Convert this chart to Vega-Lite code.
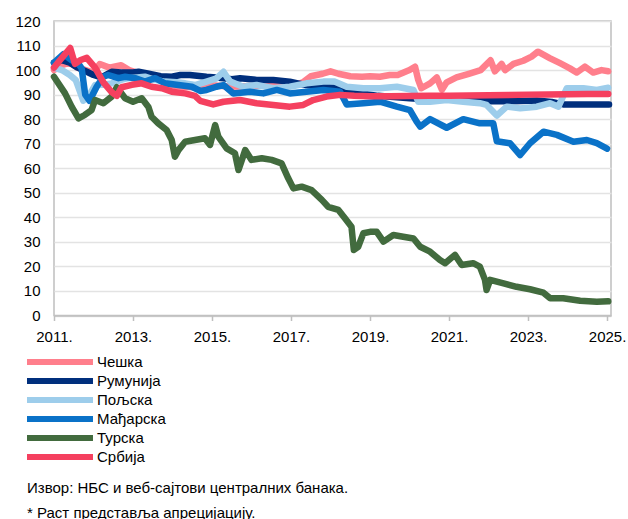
{
  "$schema": "https://vega.github.io/schema/vega-lite/v6.json",
  "width": 557,
  "height": 294.5,
  "autosize": {"type": "none"},
  "padding": {"left": 54, "top": 21, "right": 17, "bottom": 203.5},
  "background": "white",
  "config": {
    "font": "Liberation Sans",
    "view": {"stroke": "#BFBFBF", "strokeWidth": 1.5}
  },
  "title": {
    "text": "Извор: НБС и веб-сајтови централних банака.",
    "subtitle": "* Раст представља апрецијацију.",
    "orient": "bottom",
    "anchor": "start",
    "frame": "group",
    "fontSize": 15,
    "fontWeight": "normal",
    "subtitleFontSize": 15,
    "subtitlePadding": 10,
    "color": "black",
    "subtitleColor": "black",
    "offset": 14,
    "dx": -27
  },
  "data": {
    "values": [
      {"s": "Чешка", "t": 2011.0, "v": 100},
      {"s": "Чешка", "t": 2011.2, "v": 102},
      {"s": "Чешка", "t": 2011.4, "v": 103},
      {"s": "Чешка", "t": 2011.6, "v": 101},
      {"s": "Чешка", "t": 2011.8, "v": 100},
      {"s": "Чешка", "t": 2012.0, "v": 99},
      {"s": "Чешка", "t": 2012.16, "v": 102.5},
      {"s": "Чешка", "t": 2012.4, "v": 101},
      {"s": "Чешка", "t": 2012.7, "v": 102},
      {"s": "Чешка", "t": 2012.9, "v": 100},
      {"s": "Чешка", "t": 2013.1, "v": 99},
      {"s": "Чешка", "t": 2013.3, "v": 98},
      {"s": "Чешка", "t": 2013.5, "v": 97},
      {"s": "Чешка", "t": 2013.7, "v": 97},
      {"s": "Чешка", "t": 2013.85, "v": 94},
      {"s": "Чешка", "t": 2014.0, "v": 93.5},
      {"s": "Чешка", "t": 2014.5, "v": 93},
      {"s": "Чешка", "t": 2015.0, "v": 93.8},
      {"s": "Чешка", "t": 2015.5, "v": 93.2},
      {"s": "Чешка", "t": 2016.0, "v": 93.5},
      {"s": "Чешка", "t": 2016.5, "v": 93.9},
      {"s": "Чешка", "t": 2017.0, "v": 93.6},
      {"s": "Чешка", "t": 2017.3, "v": 95},
      {"s": "Чешка", "t": 2017.5, "v": 97.5},
      {"s": "Чешка", "t": 2017.8, "v": 98.5},
      {"s": "Чешка", "t": 2018.0, "v": 99.5},
      {"s": "Чешка", "t": 2018.2, "v": 98.5},
      {"s": "Чешка", "t": 2018.5, "v": 97.5},
      {"s": "Чешка", "t": 2018.8, "v": 97.3},
      {"s": "Чешка", "t": 2019.0, "v": 97.5},
      {"s": "Чешка", "t": 2019.25, "v": 97.3},
      {"s": "Чешка", "t": 2019.5, "v": 98},
      {"s": "Чешка", "t": 2019.7, "v": 98},
      {"s": "Чешка", "t": 2020.0, "v": 100},
      {"s": "Чешка", "t": 2020.14, "v": 101.4},
      {"s": "Чешка", "t": 2020.22, "v": 96},
      {"s": "Чешка", "t": 2020.3, "v": 92.6},
      {"s": "Чешка", "t": 2020.52, "v": 94.6},
      {"s": "Чешка", "t": 2020.69, "v": 97},
      {"s": "Чешка", "t": 2020.82, "v": 92},
      {"s": "Чешка", "t": 2020.94, "v": 95},
      {"s": "Чешка", "t": 2021.19, "v": 97},
      {"s": "Чешка", "t": 2021.5, "v": 98.5},
      {"s": "Чешка", "t": 2021.8, "v": 100},
      {"s": "Чешка", "t": 2022.05, "v": 104},
      {"s": "Чешка", "t": 2022.16, "v": 99.5},
      {"s": "Чешка", "t": 2022.33, "v": 102.5},
      {"s": "Чешка", "t": 2022.42, "v": 100},
      {"s": "Чешка", "t": 2022.63, "v": 102.5},
      {"s": "Чешка", "t": 2022.88, "v": 103.8},
      {"s": "Чешка", "t": 2023.09, "v": 105.5},
      {"s": "Чешка", "t": 2023.25, "v": 107.5},
      {"s": "Чешка", "t": 2023.56, "v": 104.8},
      {"s": "Чешка", "t": 2023.81, "v": 102.8},
      {"s": "Чешка", "t": 2024.06, "v": 100.7},
      {"s": "Чешка", "t": 2024.23, "v": 99},
      {"s": "Чешка", "t": 2024.44, "v": 101.4},
      {"s": "Чешка", "t": 2024.65, "v": 99},
      {"s": "Чешка", "t": 2024.86, "v": 100},
      {"s": "Чешка", "t": 2025.03, "v": 99.5},

      {"s": "Румунија", "t": 2011.0, "v": 103},
      {"s": "Румунија", "t": 2011.2, "v": 104},
      {"s": "Румунија", "t": 2011.4, "v": 103},
      {"s": "Румунија", "t": 2011.6, "v": 101},
      {"s": "Румунија", "t": 2011.83, "v": 99.3},
      {"s": "Румунија", "t": 2012.0, "v": 98},
      {"s": "Румунија", "t": 2012.2, "v": 97},
      {"s": "Румунија", "t": 2012.46, "v": 99.3},
      {"s": "Румунија", "t": 2012.7, "v": 99},
      {"s": "Румунија", "t": 2013.0, "v": 99},
      {"s": "Румунија", "t": 2013.14, "v": 99.3},
      {"s": "Румунија", "t": 2013.4, "v": 98.5},
      {"s": "Румунија", "t": 2013.7, "v": 97.5},
      {"s": "Румунија", "t": 2013.98, "v": 97.3},
      {"s": "Румунија", "t": 2014.2, "v": 98},
      {"s": "Румунија", "t": 2014.44, "v": 98},
      {"s": "Румунија", "t": 2014.86, "v": 97.3},
      {"s": "Румунија", "t": 2015.1, "v": 97},
      {"s": "Румунија", "t": 2015.29, "v": 96.7},
      {"s": "Румунија", "t": 2015.5, "v": 96.3},
      {"s": "Румунија", "t": 2015.71, "v": 96.7},
      {"s": "Румунија", "t": 2016.13, "v": 96},
      {"s": "Румунија", "t": 2016.55, "v": 96},
      {"s": "Румунија", "t": 2016.97, "v": 95.3},
      {"s": "Румунија", "t": 2017.2, "v": 94.5},
      {"s": "Румунија", "t": 2017.39, "v": 93.9},
      {"s": "Румунија", "t": 2017.82, "v": 93.2},
      {"s": "Румунија", "t": 2018.24, "v": 92.6},
      {"s": "Румунија", "t": 2018.5, "v": 91.5},
      {"s": "Румунија", "t": 2018.8, "v": 90.5},
      {"s": "Румунија", "t": 2019.2, "v": 89.5},
      {"s": "Румунија", "t": 2019.6, "v": 89},
      {"s": "Румунија", "t": 2020.0, "v": 88.5},
      {"s": "Румунија", "t": 2020.5, "v": 88},
      {"s": "Румунија", "t": 2021.0, "v": 88},
      {"s": "Румунија", "t": 2021.5, "v": 87.5},
      {"s": "Румунија", "t": 2022.0, "v": 87.3},
      {"s": "Румунија", "t": 2022.63, "v": 87.3},
      {"s": "Румунија", "t": 2023.22, "v": 87.6},
      {"s": "Румунија", "t": 2023.6, "v": 87},
      {"s": "Румунија", "t": 2023.89, "v": 86},
      {"s": "Румунија", "t": 2024.3, "v": 86},
      {"s": "Румунија", "t": 2024.7, "v": 86},
      {"s": "Румунија", "t": 2025.05, "v": 86},

      {"s": "Пољска", "t": 2011.0, "v": 101},
      {"s": "Пољска", "t": 2011.2, "v": 100},
      {"s": "Пољска", "t": 2011.4, "v": 98},
      {"s": "Пољска", "t": 2011.55, "v": 96},
      {"s": "Пољска", "t": 2011.74, "v": 87.5},
      {"s": "Пољска", "t": 2011.9, "v": 90},
      {"s": "Пољска", "t": 2012.04, "v": 93.9},
      {"s": "Пољска", "t": 2012.25, "v": 94},
      {"s": "Пољска", "t": 2012.46, "v": 94.6},
      {"s": "Пољска", "t": 2012.7, "v": 96},
      {"s": "Пољска", "t": 2012.88, "v": 96.7},
      {"s": "Пољска", "t": 2013.1, "v": 97},
      {"s": "Пољска", "t": 2013.3, "v": 97.3},
      {"s": "Пољска", "t": 2013.55, "v": 96},
      {"s": "Пољска", "t": 2013.81, "v": 95.3},
      {"s": "Пољска", "t": 2014.1, "v": 95},
      {"s": "Пољска", "t": 2014.32, "v": 94.6},
      {"s": "Пољска", "t": 2014.57, "v": 93.9},
      {"s": "Пољска", "t": 2014.86, "v": 95.3},
      {"s": "Пољска", "t": 2015.1, "v": 96.5},
      {"s": "Пољска", "t": 2015.29, "v": 99.3},
      {"s": "Пољска", "t": 2015.46, "v": 95.3},
      {"s": "Пољска", "t": 2015.79, "v": 93.2},
      {"s": "Пољска", "t": 2016.13, "v": 93.9},
      {"s": "Пољска", "t": 2016.55, "v": 92.6},
      {"s": "Пољска", "t": 2016.97, "v": 93.2},
      {"s": "Пољска", "t": 2017.39, "v": 94.6},
      {"s": "Пољска", "t": 2017.82, "v": 95.3},
      {"s": "Пољска", "t": 2018.1, "v": 95.3},
      {"s": "Пољска", "t": 2018.41, "v": 93.2},
      {"s": "Пољска", "t": 2018.83, "v": 92.6},
      {"s": "Пољска", "t": 2019.25, "v": 92.6},
      {"s": "Пољска", "t": 2019.68, "v": 93.2},
      {"s": "Пољска", "t": 2020.1, "v": 91.9},
      {"s": "Пољска", "t": 2020.22, "v": 87.1},
      {"s": "Пољска", "t": 2020.52, "v": 87.1},
      {"s": "Пољска", "t": 2020.94, "v": 87.8},
      {"s": "Пољска", "t": 2021.36, "v": 87.1},
      {"s": "Пољска", "t": 2021.78, "v": 86.5},
      {"s": "Пољска", "t": 2021.95, "v": 85.8},
      {"s": "Пољска", "t": 2022.21, "v": 81.5},
      {"s": "Пољска", "t": 2022.46, "v": 85.1},
      {"s": "Пољска", "t": 2022.8, "v": 84.4},
      {"s": "Пољска", "t": 2023.22, "v": 85.1},
      {"s": "Пољска", "t": 2023.56, "v": 86.5},
      {"s": "Пољска", "t": 2023.77, "v": 85.1},
      {"s": "Пољска", "t": 2023.98, "v": 92.6},
      {"s": "Пољска", "t": 2024.4, "v": 92.6},
      {"s": "Пољска", "t": 2024.74, "v": 91.9},
      {"s": "Пољска", "t": 2025.03, "v": 92.8},

      {"s": "Мађарска", "t": 2011.0, "v": 103},
      {"s": "Мађарска", "t": 2011.24, "v": 106.5},
      {"s": "Мађарска", "t": 2011.45, "v": 104},
      {"s": "Мађарска", "t": 2011.6, "v": 103},
      {"s": "Мађарска", "t": 2011.7, "v": 100.7},
      {"s": "Мађарска", "t": 2011.79, "v": 90},
      {"s": "Мађарска", "t": 2011.9, "v": 87.5},
      {"s": "Мађарска", "t": 2012.08, "v": 93.2},
      {"s": "Мађарска", "t": 2012.25, "v": 97.3},
      {"s": "Мађарска", "t": 2012.37, "v": 98},
      {"s": "Мађарска", "t": 2012.63, "v": 96.7},
      {"s": "Мађарска", "t": 2012.8, "v": 97.3},
      {"s": "Мађарска", "t": 2013.05, "v": 96.7},
      {"s": "Мађарска", "t": 2013.3, "v": 95.3},
      {"s": "Мађарска", "t": 2013.56, "v": 96.7},
      {"s": "Мађарска", "t": 2013.81, "v": 94.6},
      {"s": "Мађарска", "t": 2014.15, "v": 93.9},
      {"s": "Мађарска", "t": 2014.49, "v": 93.2},
      {"s": "Мађарска", "t": 2014.7, "v": 91.5},
      {"s": "Мађарска", "t": 2014.86, "v": 91.9},
      {"s": "Мађарска", "t": 2015.11, "v": 93.2},
      {"s": "Мађарска", "t": 2015.29, "v": 93.9},
      {"s": "Мађарска", "t": 2015.54, "v": 90.5},
      {"s": "Мађарска", "t": 2015.96, "v": 91.2},
      {"s": "Мађарска", "t": 2016.3, "v": 90.5},
      {"s": "Мађарска", "t": 2016.64, "v": 91.9},
      {"s": "Мађарска", "t": 2016.97, "v": 90.5},
      {"s": "Мађарска", "t": 2017.39, "v": 91.2},
      {"s": "Мађарска", "t": 2017.82, "v": 91.9},
      {"s": "Мађарска", "t": 2018.24, "v": 91.2},
      {"s": "Мађарска", "t": 2018.41, "v": 86},
      {"s": "Мађарска", "t": 2018.83, "v": 86.5},
      {"s": "Мађарска", "t": 2019.25, "v": 87.1},
      {"s": "Мађарска", "t": 2019.68, "v": 85.1},
      {"s": "Мађарска", "t": 2020.01, "v": 83.7},
      {"s": "Мађарска", "t": 2020.18, "v": 79},
      {"s": "Мађарска", "t": 2020.27, "v": 77},
      {"s": "Мађарска", "t": 2020.52, "v": 80},
      {"s": "Мађарска", "t": 2020.94, "v": 76.5},
      {"s": "Мађарска", "t": 2021.36, "v": 80},
      {"s": "Мађарска", "t": 2021.78, "v": 78.3},
      {"s": "Мађарска", "t": 2022.12, "v": 78.3},
      {"s": "Мађарска", "t": 2022.21, "v": 71},
      {"s": "Мађарска", "t": 2022.54, "v": 70.2},
      {"s": "Мађарска", "t": 2022.8, "v": 65.4},
      {"s": "Мађарска", "t": 2023.05, "v": 70.2},
      {"s": "Мађарска", "t": 2023.39, "v": 74.9},
      {"s": "Мађарска", "t": 2023.73, "v": 73.6},
      {"s": "Мађарска", "t": 2024.15, "v": 70.8},
      {"s": "Мађарска", "t": 2024.49, "v": 71.5},
      {"s": "Мађарска", "t": 2024.74, "v": 70.2},
      {"s": "Мађарска", "t": 2025.0, "v": 68},

      {"s": "Турска", "t": 2011.0, "v": 97.3},
      {"s": "Турска", "t": 2011.28, "v": 90.5},
      {"s": "Турска", "t": 2011.45, "v": 85},
      {"s": "Турска", "t": 2011.62, "v": 80.3},
      {"s": "Турска", "t": 2011.78, "v": 81.7},
      {"s": "Турска", "t": 2011.95, "v": 83.7},
      {"s": "Турска", "t": 2012.04, "v": 87.8},
      {"s": "Турска", "t": 2012.25, "v": 86.5},
      {"s": "Турска", "t": 2012.46, "v": 89.2},
      {"s": "Турска", "t": 2012.59, "v": 93},
      {"s": "Турска", "t": 2012.8, "v": 88.5},
      {"s": "Турска", "t": 2013.0, "v": 87.1},
      {"s": "Турска", "t": 2013.22, "v": 88.5},
      {"s": "Турска", "t": 2013.39, "v": 85},
      {"s": "Турска", "t": 2013.47, "v": 81},
      {"s": "Турска", "t": 2013.64, "v": 78.3},
      {"s": "Турска", "t": 2013.85, "v": 75.6},
      {"s": "Турска", "t": 2013.98, "v": 71.5},
      {"s": "Турска", "t": 2014.06, "v": 64.7},
      {"s": "Турска", "t": 2014.15, "v": 67.4},
      {"s": "Турска", "t": 2014.32, "v": 70.8},
      {"s": "Турска", "t": 2014.57, "v": 71.5},
      {"s": "Турска", "t": 2014.82, "v": 72.2},
      {"s": "Турска", "t": 2014.95, "v": 69.5},
      {"s": "Турска", "t": 2015.08, "v": 77.6},
      {"s": "Турска", "t": 2015.16, "v": 72.9},
      {"s": "Турска", "t": 2015.37, "v": 68.1},
      {"s": "Турска", "t": 2015.58, "v": 66.1},
      {"s": "Турска", "t": 2015.67, "v": 59.3},
      {"s": "Турска", "t": 2015.84, "v": 67.4},
      {"s": "Турска", "t": 2016.0, "v": 63.4},
      {"s": "Турска", "t": 2016.26, "v": 64.1},
      {"s": "Турска", "t": 2016.51, "v": 63.4},
      {"s": "Турска", "t": 2016.76, "v": 62},
      {"s": "Турска", "t": 2016.93, "v": 55.9},
      {"s": "Турска", "t": 2017.06, "v": 51.8},
      {"s": "Турска", "t": 2017.27, "v": 52.5},
      {"s": "Турска", "t": 2017.52, "v": 51.1},
      {"s": "Турска", "t": 2017.78, "v": 47.1},
      {"s": "Турска", "t": 2017.94, "v": 44.3},
      {"s": "Турска", "t": 2018.2, "v": 43},
      {"s": "Турска", "t": 2018.37, "v": 39.5},
      {"s": "Турска", "t": 2018.53, "v": 36.2},
      {"s": "Турска", "t": 2018.59, "v": 26.7},
      {"s": "Турска", "t": 2018.7, "v": 28},
      {"s": "Турска", "t": 2018.83, "v": 33.5},
      {"s": "Турска", "t": 2019.0, "v": 34.1},
      {"s": "Турска", "t": 2019.17, "v": 34.1},
      {"s": "Турска", "t": 2019.34, "v": 30.1},
      {"s": "Турска", "t": 2019.59, "v": 32.8},
      {"s": "Турска", "t": 2019.84, "v": 32.1},
      {"s": "Турска", "t": 2020.1, "v": 31.4},
      {"s": "Турска", "t": 2020.27, "v": 28},
      {"s": "Турска", "t": 2020.52, "v": 26},
      {"s": "Турска", "t": 2020.77, "v": 22.6},
      {"s": "Турска", "t": 2020.9, "v": 21.3},
      {"s": "Турска", "t": 2021.15, "v": 24.7},
      {"s": "Турска", "t": 2021.32, "v": 20.6},
      {"s": "Турска", "t": 2021.61, "v": 21.3},
      {"s": "Турска", "t": 2021.78, "v": 19.9},
      {"s": "Турска", "t": 2021.91, "v": 14.5},
      {"s": "Турска", "t": 2021.95, "v": 10.4},
      {"s": "Турска", "t": 2022.04, "v": 14.5},
      {"s": "Турска", "t": 2022.38, "v": 13.1},
      {"s": "Турска", "t": 2022.71, "v": 11.7},
      {"s": "Турска", "t": 2023.05, "v": 10.7},
      {"s": "Турска", "t": 2023.39, "v": 9.3},
      {"s": "Турска", "t": 2023.56, "v": 7},
      {"s": "Турска", "t": 2023.89, "v": 7},
      {"s": "Турска", "t": 2024.32, "v": 6},
      {"s": "Турска", "t": 2024.74, "v": 5.6},
      {"s": "Турска", "t": 2025.03, "v": 5.8},

      {"s": "Србија", "t": 2011.0, "v": 101},
      {"s": "Србија", "t": 2011.15, "v": 104},
      {"s": "Србија", "t": 2011.41, "v": 109},
      {"s": "Србија", "t": 2011.53, "v": 102.5},
      {"s": "Србија", "t": 2011.66, "v": 104},
      {"s": "Србија", "t": 2011.83, "v": 105},
      {"s": "Србија", "t": 2012.04, "v": 101},
      {"s": "Србија", "t": 2012.25, "v": 95},
      {"s": "Србија", "t": 2012.46, "v": 91},
      {"s": "Србија", "t": 2012.59, "v": 89.5},
      {"s": "Србија", "t": 2012.71, "v": 93},
      {"s": "Србија", "t": 2012.97, "v": 94},
      {"s": "Србија", "t": 2013.22, "v": 94.6},
      {"s": "Србија", "t": 2013.47, "v": 93.2},
      {"s": "Србија", "t": 2013.73, "v": 92.6},
      {"s": "Србија", "t": 2013.98, "v": 91.2},
      {"s": "Србија", "t": 2014.32, "v": 90.5},
      {"s": "Србија", "t": 2014.57, "v": 89.5},
      {"s": "Србија", "t": 2014.7, "v": 87.5},
      {"s": "Србија", "t": 2015.03, "v": 86},
      {"s": "Србија", "t": 2015.29, "v": 87.1},
      {"s": "Србија", "t": 2015.71, "v": 87.8},
      {"s": "Србија", "t": 2016.13, "v": 86.5},
      {"s": "Србија", "t": 2016.55, "v": 85.8},
      {"s": "Србија", "t": 2016.97, "v": 85.1},
      {"s": "Србија", "t": 2017.31, "v": 85.8},
      {"s": "Србија", "t": 2017.56, "v": 87.8},
      {"s": "Србија", "t": 2017.9, "v": 89.2},
      {"s": "Србија", "t": 2018.24, "v": 89.9},
      {"s": "Србија", "t": 2018.6, "v": 89.5},
      {"s": "Србија", "t": 2019.0, "v": 89.3},
      {"s": "Србија", "t": 2019.5, "v": 89.3},
      {"s": "Србија", "t": 2020.0, "v": 89.4},
      {"s": "Србија", "t": 2020.5, "v": 89.5},
      {"s": "Србија", "t": 2021.0, "v": 89.5},
      {"s": "Србија", "t": 2021.5, "v": 89.6},
      {"s": "Србија", "t": 2022.0, "v": 89.7},
      {"s": "Србија", "t": 2022.5, "v": 89.8},
      {"s": "Србија", "t": 2023.0, "v": 90},
      {"s": "Србија", "t": 2023.5, "v": 90.1},
      {"s": "Србија", "t": 2024.0, "v": 90.2},
      {"s": "Србија", "t": 2024.5, "v": 90.3},
      {"s": "Србија", "t": 2025.03, "v": 90.3}
    ]
  },
  "mark": {"type": "line", "strokeWidth": 6.5, "strokeCap": "round", "strokeJoin": "round"},
  "encoding": {
    "x": {
      "field": "t",
      "type": "quantitative",
      "scale": {"domain": [2011, 2025.1], "nice": false, "zero": false},
      "axis": {
        "title": null,
        "values": [2011, 2013, 2015, 2017, 2019, 2021, 2023, 2025],
        "format": "d",
        "labelExpr": "datum.label + '.'",
        "grid": false,
        "domainColor": "#BFBFBF",
        "domainWidth": 1.5,
        "tickColor": "#BFBFBF",
        "tickWidth": 1.5,
        "tickSize": 5,
        "labelFontSize": 15,
        "labelColor": "black",
        "labelPadding": 9,
        "labelFlush": false,
        "labelOverlap": false,
        "labelBound": false
      }
    },
    "y": {
      "field": "v",
      "type": "quantitative",
      "scale": {"domain": [0, 120], "nice": false},
      "axis": {
        "title": null,
        "values": [0, 10, 20, 30, 40, 50, 60, 70, 80, 90, 100, 110, 120],
        "ticks": false,
        "domain": false,
        "gridColor": "#E3E3E3",
        "gridWidth": 1.5,
        "labelFontSize": 15,
        "labelColor": "black",
        "labelPadding": 14,
        "labelOverlap": false,
        "labelBound": false,
        "labelFlush": false
      }
    },
    "color": {
      "field": "s",
      "type": "nominal",
      "sort": ["Чешка", "Румунија", "Пољска", "Мађарска", "Турска", "Србија"],
      "scale": {
        "domain": ["Чешка", "Румунија", "Пољска", "Мађарска", "Турска", "Србија"],
        "range": ["#FF7F8C", "#002F7D", "#9DCDEB", "#0A72C8", "#426B3E", "#F5405F"]
      },
      "legend": {
        "title": null,
        "orient": "none",
        "legendX": -27,
        "legendY": 331.5,
        "direction": "vertical",
        "symbolType": "M-1.4615,0H8.69",
        "symbolSize": 169,
        "symbolStrokeWidth": 6,
        "labelFontSize": 15,
        "labelColor": "black",
        "labelOffset": 51,
        "clipHeight": 19,
        "rowPadding": 0,
        "padding": 0
      }
    }
  }
}
